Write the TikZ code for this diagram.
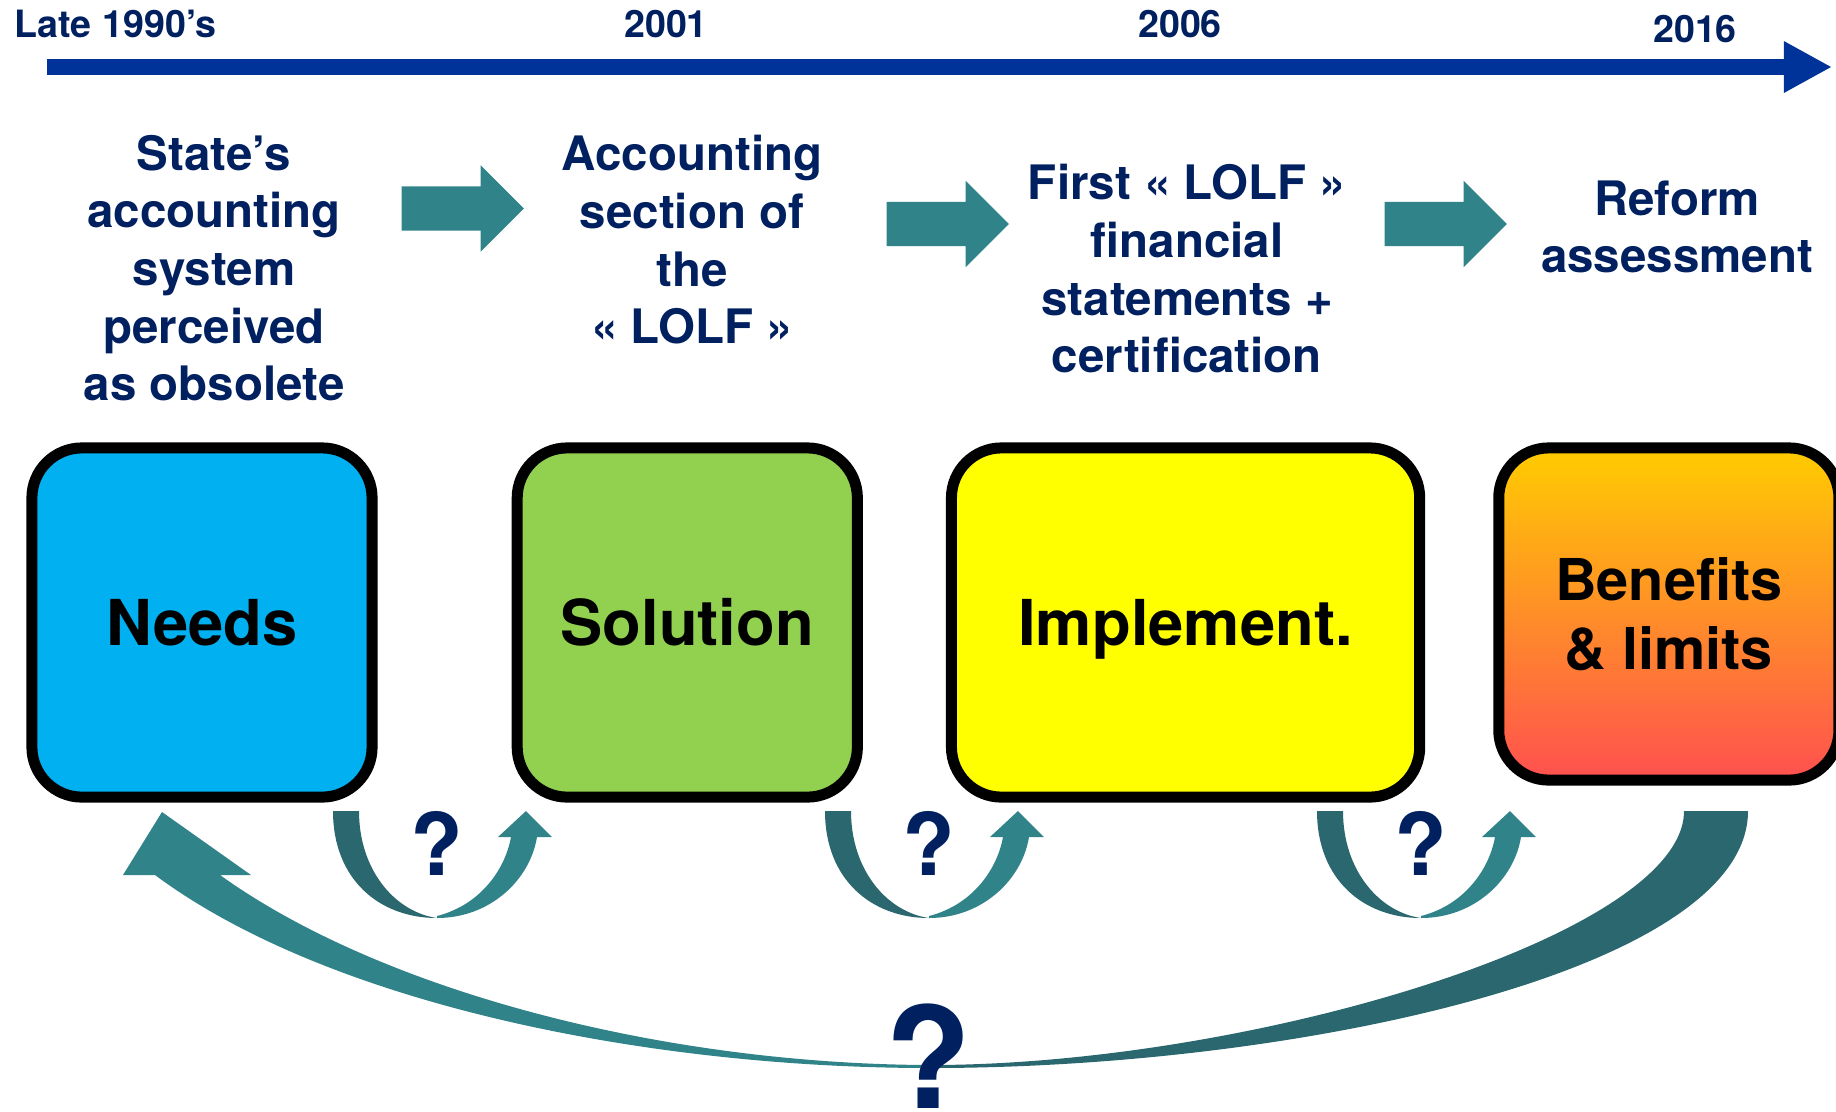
\documentclass[tikz,border=0pt]{standalone}
\usepackage{fontspec}
\setmainfont{TeX Gyre Heros}
\usetikzlibrary{positioning, arrows.meta, shapes.arrows}

\definecolor{navy}{HTML}{002060}
\definecolor{timeblue}{HTML}{003399}
\definecolor{needscyan}{HTML}{00B0F0}
\definecolor{solgreen}{HTML}{92D050}
\definecolor{impyellow}{HTML}{FFFF00}
\definecolor{bentop}{HTML}{FFCC00}
\definecolor{benbot}{HTML}{FF5050}
\definecolor{tealarrow}{HTML}{31838A}
\definecolor{tealdark}{HTML}{2A676E}

\tikzset{%
phase box/.style={
    rectangle, rounded corners=0.5cm,
    draw=black, line width=0.11cm,
    minimum width=3.4cm, minimum height=3.49cm,
    font=\fontsize{18}{20}\selectfont\bfseries,
    align=center, inner sep=0pt
},
phase text/.style={
    text=navy, align=center, inner sep=0pt,
    font=\fontsize{13.5}{16.4}\selectfont\bfseries
},
year label/.style={
    text=navy, anchor=base, inner sep=0pt,
    font=\fontsize{10.7}{13}\selectfont\bfseries
},
steparrow/.style={
    single arrow, fill=tealarrow, draw=none,
    single arrow head extend=0.21cm,
    inner xsep=0pt, inner ysep=0.215cm,
    minimum height=1.22cm, anchor=tail
},
qmark/.style={
    text=navy, inner sep=0pt,
    font=\fontsize{24.5}{26}\selectfont\bfseries
},
}

\begin{document}
\begin{tikzpicture}[x=0.01cm, y=-0.01cm]
\useasboundingbox (0,0) rectangle (1836,1111);
\clip (0,0) rectangle (1836,1111);

% time line
\coordinate (tl-start) at (47,67);
\coordinate (tl-end) at (1832,67);
\draw [timeblue, line width=0.16cm, -{Triangle[length=0.48cm,width=0.48cm]}] (tl-start) -- (tl-end);
\node (y-late) [year label, anchor=base west] at (14,37) {Late 1990’s};
\node (y-2001) [year label] at (666,37) {2001};
\node (y-2006) [year label] at (1180,37) {2006};
\node (y-2016) [year label] at (1695,42) {2016};

% texts and step arrows
\node (needs-txt) [phase text] at (214,268) {State’s\\accounting\\system\\perceived\\as obsolete};
\node (sol-txt) [phase text] at (692,240) {Accounting\\section of\\the\\«~LOLF~»};
\node (impl-txt) [phase text] at (1187,269) {First «~LOLF~»\\financial\\statements +\\certification};
\node (ben-txt) [phase text] at (1677,227) {Reform\\assessment};
\node (arr1) [steparrow] at (401,208.5) {};
\node (arr2) [steparrow] at (886,224) {};
\node (arr3) [steparrow] at (1384,224) {};

% phase boxes
\node (needs) [phase box, fill=needscyan] at (202,622.5) {Needs};
\node (sol) [phase box, fill=solgreen, right=1.34cm of needs] {Solution};
\node (impl) [phase box, fill=impyellow, minimum width=4.68cm, text depth=0pt, right=0.83cm of sol] {Implement.};
\node (ben) [phase box, top color=bentop, bottom color=benbot, minimum height=3.32cm,
    font=\fontsize{16.4}{19.6}\selectfont\bfseries, right=0.68cm of impl, yshift=0.085cm] {Benefits\\\& limits};

% small loops between boxes
\foreach \dx in {0,492,984} {
  \begin{scope}[shift={(\dx,0)}]
    \fill [tealdark] (333,811) .. controls (333,880) and (380,918) .. (437,918)
        .. controls (395,912) and (359,870) .. (359,811) -- cycle;
    \fill [tealarrow] (437,918) .. controls (490,918) and (530,880) .. (537,837)
        -- (552,837) -- (526,811) -- (498,837) -- (511,837)
        .. controls (505,870) and (480,905) .. (437,916) -- cycle;
    \node (q\dx) [qmark] at (437,843) {?};
  \end{scope}
}

% big loop back to the needs
\fill [tealarrow] (930,1068) .. controls (650,1068) and (330,1005) .. (155,875)
    -- (123,875) -- (162,812) -- (251,875) -- (220,875)
    .. controls (380,990) and (660,1064) .. (930,1065) -- cycle;
\fill [tealdark] (930,1068) .. controls (1300,1068) and (1748,970) .. (1748,811)
    -- (1684,811) .. controls (1684,935) and (1250,1065) .. (930,1065) -- cycle;
\node (q-big) [qmark, font=\fontsize{40}{42}\selectfont\bfseries] at (928,1056) {?};
\end{tikzpicture}
\end{document}
